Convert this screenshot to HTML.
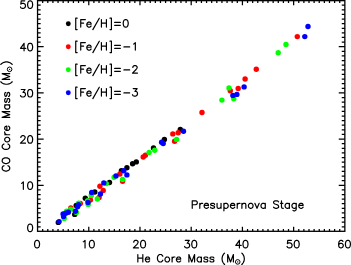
<!DOCTYPE html>
<html><head><meta charset="utf-8"><title>Presupernova Stage</title>
<style>html,body{margin:0;padding:0;background:#fff;}body{width:351px;height:265px;overflow:hidden;font-family:"Liberation Sans",sans-serif;}svg{display:block;}</style>
</head><body>
<svg width="351" height="265" viewBox="0 0 351 265">
<rect width="351" height="265" fill="#fff"/>
<g fill="#000">
<circle cx="58.3" cy="222.4" r="2.7"/>
<circle cx="121.4" cy="170.8" r="2.7"/>
<circle cx="74.7" cy="214.4" r="2.7"/>
<circle cx="76.2" cy="205.4" r="2.7"/>
<circle cx="85.3" cy="198.2" r="2.7"/>
<circle cx="94.8" cy="192" r="2.7"/>
<circle cx="109.5" cy="182.5" r="2.7"/>
<circle cx="126.9" cy="167.8" r="2.7"/>
<circle cx="132.6" cy="163.8" r="2.7"/>
<circle cx="136.3" cy="161.9" r="2.7"/>
<circle cx="153.5" cy="148" r="2.7"/>
<circle cx="164.4" cy="139.4" r="2.7"/>
<circle cx="180.3" cy="129.4" r="2.7"/>
</g>
<g fill="#f00">
<circle cx="70.8" cy="208.0" r="2.7"/>
<circle cx="80.3" cy="203.5" r="2.7"/>
<circle cx="90.4" cy="200" r="2.7"/>
<circle cx="99.1" cy="197.5" r="2.7"/>
<circle cx="103.2" cy="190.5" r="2.7"/>
<circle cx="99.9" cy="186.2" r="2.7"/>
<circle cx="119.9" cy="174" r="2.7"/>
<circle cx="122.6" cy="181.3" r="2.7"/>
<circle cx="143.2" cy="157.0" r="2.7"/>
<circle cx="145.4" cy="155.3" r="2.7"/>
<circle cx="172.8" cy="133.9" r="2.7"/>
<circle cx="178.2" cy="132.7" r="2.7"/>
<circle cx="174.6" cy="141.3" r="2.7"/>
<circle cx="202" cy="112.5" r="2.7"/>
<circle cx="230.3" cy="90.7" r="2.7"/>
<circle cx="238.2" cy="88.5" r="2.7"/>
<circle cx="245.1" cy="79.0" r="2.7"/>
<circle cx="256.3" cy="69.2" r="2.7"/>
<circle cx="297.3" cy="36.6" r="2.7"/>
</g>
<g fill="#0f0">
<circle cx="64.2" cy="218.4" r="2.7"/>
<circle cx="70.8" cy="209.2" r="2.7"/>
<circle cx="76.4" cy="212.4" r="2.7"/>
<circle cx="66.6" cy="211.2" r="2.7"/>
<circle cx="78.6" cy="203.3" r="2.7"/>
<circle cx="88.2" cy="204.4" r="2.7"/>
<circle cx="87.6" cy="200.6" r="2.7"/>
<circle cx="91.3" cy="195.4" r="2.7"/>
<circle cx="97.3" cy="199" r="2.7"/>
<circle cx="106.3" cy="183.6" r="2.7"/>
<circle cx="114.1" cy="177.2" r="2.7"/>
<circle cx="122.6" cy="179.4" r="2.7"/>
<circle cx="149.1" cy="152.5" r="2.7"/>
<circle cx="154.7" cy="150.3" r="2.7"/>
<circle cx="176.6" cy="139.4" r="2.7"/>
<circle cx="221.9" cy="100.1" r="2.7"/>
<circle cx="229" cy="87.9" r="2.7"/>
<circle cx="233.8" cy="98.8" r="2.7"/>
<circle cx="278.2" cy="52.8" r="2.7"/>
<circle cx="286" cy="44.5" r="2.7"/>
</g>
<g fill="#00f">
<circle cx="59.1" cy="221.6" r="2.7"/>
<circle cx="126.9" cy="174.9" r="2.7"/>
<circle cx="63.6" cy="216.6" r="2.7"/>
<circle cx="63.1" cy="214" r="2.7"/>
<circle cx="65.8" cy="213.2" r="2.7"/>
<circle cx="68.4" cy="212.3" r="2.7"/>
<circle cx="75.4" cy="211.2" r="2.7"/>
<circle cx="77.6" cy="206.8" r="2.7"/>
<circle cx="78.5" cy="204.8" r="2.7"/>
<circle cx="88" cy="202.5" r="2.7"/>
<circle cx="91.7" cy="192.5" r="2.7"/>
<circle cx="100.4" cy="194" r="2.7"/>
<circle cx="103.8" cy="182.9" r="2.7"/>
<circle cx="116" cy="175.9" r="2.7"/>
<circle cx="123.8" cy="170.7" r="2.7"/>
<circle cx="161.6" cy="142.2" r="2.7"/>
<circle cx="163.2" cy="143.5" r="2.7"/>
<circle cx="183.5" cy="131.2" r="2.7"/>
<circle cx="232.9" cy="95.4" r="2.7"/>
<circle cx="236.9" cy="94.4" r="2.7"/>
<circle cx="244.1" cy="86.9" r="2.7"/>
<circle cx="304.8" cy="36.6" r="2.7"/>
<circle cx="308" cy="26.5" r="2.7"/>
</g>
<circle cx="68.3" cy="23.8" r="2.45" fill="#000"/>
<circle cx="68.3" cy="46.8" r="2.45" fill="#f00"/>
<circle cx="68.3" cy="69.8" r="2.45" fill="#0f0"/>
<circle cx="68.3" cy="92.8" r="2.45" fill="#00f"/>
<rect x="37.55" y="0.65" width="307.3" height="230.65" fill="none" stroke="#000" stroke-width="1.3"/>
<path d="M42.67 231.3 V229.00 M42.67 0.65 V2.95 M47.79 231.3 V229.00 M47.79 0.65 V2.95 M52.91 231.3 V229.00 M52.91 0.65 V2.95 M58.04 231.3 V229.00 M58.04 0.65 V2.95 M63.16 231.3 V229.00 M63.16 0.65 V2.95 M68.28 231.3 V229.00 M68.28 0.65 V2.95 M73.40 231.3 V229.00 M73.40 0.65 V2.95 M78.52 231.3 V229.00 M78.52 0.65 V2.95 M83.65 231.3 V229.00 M83.65 0.65 V2.95 M88.77 231.3 V226.70 M88.77 0.65 V5.25 M93.89 231.3 V229.00 M93.89 0.65 V2.95 M99.01 231.3 V229.00 M99.01 0.65 V2.95 M104.13 231.3 V229.00 M104.13 0.65 V2.95 M109.25 231.3 V229.00 M109.25 0.65 V2.95 M114.38 231.3 V229.00 M114.38 0.65 V2.95 M119.50 231.3 V229.00 M119.50 0.65 V2.95 M124.62 231.3 V229.00 M124.62 0.65 V2.95 M129.74 231.3 V229.00 M129.74 0.65 V2.95 M134.86 231.3 V229.00 M134.86 0.65 V2.95 M139.98 231.3 V226.70 M139.98 0.65 V5.25 M145.11 231.3 V229.00 M145.11 0.65 V2.95 M150.23 231.3 V229.00 M150.23 0.65 V2.95 M155.35 231.3 V229.00 M155.35 0.65 V2.95 M160.47 231.3 V229.00 M160.47 0.65 V2.95 M165.59 231.3 V229.00 M165.59 0.65 V2.95 M170.71 231.3 V229.00 M170.71 0.65 V2.95 M175.83 231.3 V229.00 M175.83 0.65 V2.95 M180.96 231.3 V229.00 M180.96 0.65 V2.95 M186.08 231.3 V229.00 M186.08 0.65 V2.95 M191.20 231.3 V226.70 M191.20 0.65 V5.25 M196.32 231.3 V229.00 M196.32 0.65 V2.95 M201.44 231.3 V229.00 M201.44 0.65 V2.95 M206.56 231.3 V229.00 M206.56 0.65 V2.95 M211.69 231.3 V229.00 M211.69 0.65 V2.95 M216.81 231.3 V229.00 M216.81 0.65 V2.95 M221.93 231.3 V229.00 M221.93 0.65 V2.95 M227.05 231.3 V229.00 M227.05 0.65 V2.95 M232.17 231.3 V229.00 M232.17 0.65 V2.95 M237.30 231.3 V229.00 M237.30 0.65 V2.95 M242.42 231.3 V226.70 M242.42 0.65 V5.25 M247.54 231.3 V229.00 M247.54 0.65 V2.95 M252.66 231.3 V229.00 M252.66 0.65 V2.95 M257.78 231.3 V229.00 M257.78 0.65 V2.95 M262.90 231.3 V229.00 M262.90 0.65 V2.95 M268.02 231.3 V229.00 M268.02 0.65 V2.95 M273.15 231.3 V229.00 M273.15 0.65 V2.95 M278.27 231.3 V229.00 M278.27 0.65 V2.95 M283.39 231.3 V229.00 M283.39 0.65 V2.95 M288.51 231.3 V229.00 M288.51 0.65 V2.95 M293.63 231.3 V226.70 M293.63 0.65 V5.25 M298.76 231.3 V229.00 M298.76 0.65 V2.95 M303.88 231.3 V229.00 M303.88 0.65 V2.95 M309.00 231.3 V229.00 M309.00 0.65 V2.95 M314.12 231.3 V229.00 M314.12 0.65 V2.95 M319.24 231.3 V229.00 M319.24 0.65 V2.95 M324.36 231.3 V229.00 M324.36 0.65 V2.95 M329.49 231.3 V229.00 M329.49 0.65 V2.95 M334.61 231.3 V229.00 M334.61 0.65 V2.95 M339.73 231.3 V229.00 M339.73 0.65 V2.95 M37.55 226.83 H40.65 M344.85 226.83 H341.75 M37.55 222.21 H40.65 M344.85 222.21 H341.75 M37.55 217.60 H40.65 M344.85 217.60 H341.75 M37.55 212.98 H40.65 M344.85 212.98 H341.75 M37.55 208.36 H40.65 M344.85 208.36 H341.75 M37.55 203.74 H40.65 M344.85 203.74 H341.75 M37.55 199.12 H40.65 M344.85 199.12 H341.75 M37.55 194.51 H40.65 M344.85 194.51 H341.75 M37.55 189.89 H40.65 M344.85 189.89 H341.75 M37.55 185.27 H43.65 M344.85 185.27 H338.75 M37.55 180.65 H40.65 M344.85 180.65 H341.75 M37.55 176.03 H40.65 M344.85 176.03 H341.75 M37.55 171.42 H40.65 M344.85 171.42 H341.75 M37.55 166.80 H40.65 M344.85 166.80 H341.75 M37.55 162.18 H40.65 M344.85 162.18 H341.75 M37.55 157.56 H40.65 M344.85 157.56 H341.75 M37.55 152.94 H40.65 M344.85 152.94 H341.75 M37.55 148.33 H40.65 M344.85 148.33 H341.75 M37.55 143.71 H40.65 M344.85 143.71 H341.75 M37.55 139.09 H43.65 M344.85 139.09 H338.75 M37.55 134.47 H40.65 M344.85 134.47 H341.75 M37.55 129.85 H40.65 M344.85 129.85 H341.75 M37.55 125.24 H40.65 M344.85 125.24 H341.75 M37.55 120.62 H40.65 M344.85 120.62 H341.75 M37.55 116.00 H40.65 M344.85 116.00 H341.75 M37.55 111.38 H40.65 M344.85 111.38 H341.75 M37.55 106.76 H40.65 M344.85 106.76 H341.75 M37.55 102.15 H40.65 M344.85 102.15 H341.75 M37.55 97.53 H40.65 M344.85 97.53 H341.75 M37.55 92.91 H43.65 M344.85 92.91 H338.75 M37.55 88.29 H40.65 M344.85 88.29 H341.75 M37.55 83.67 H40.65 M344.85 83.67 H341.75 M37.55 79.06 H40.65 M344.85 79.06 H341.75 M37.55 74.44 H40.65 M344.85 74.44 H341.75 M37.55 69.82 H40.65 M344.85 69.82 H341.75 M37.55 65.20 H40.65 M344.85 65.20 H341.75 M37.55 60.58 H40.65 M344.85 60.58 H341.75 M37.55 55.97 H40.65 M344.85 55.97 H341.75 M37.55 51.35 H40.65 M344.85 51.35 H341.75 M37.55 46.73 H43.65 M344.85 46.73 H338.75 M37.55 42.11 H40.65 M344.85 42.11 H341.75 M37.55 37.49 H40.65 M344.85 37.49 H341.75 M37.55 32.88 H40.65 M344.85 32.88 H341.75 M37.55 28.26 H40.65 M344.85 28.26 H341.75 M37.55 23.64 H40.65 M344.85 23.64 H341.75 M37.55 19.02 H40.65 M344.85 19.02 H341.75 M37.55 14.40 H40.65 M344.85 14.40 H341.75 M37.55 9.79 H40.65 M344.85 9.79 H341.75 M37.55 5.17 H40.65 M344.85 5.17 H341.75" stroke="#000" stroke-width="1.25" fill="none"/>
<path d="M36.69 240.40 L35.62 240.76 L34.91 241.83 L34.55 243.62 L34.55 244.69 L34.91 246.47 L35.62 247.54 L36.69 247.90 L37.41 247.90 L38.48 247.54 L39.19 246.47 L39.55 244.69 L39.55 243.62 L39.19 241.83 L38.48 240.76 L37.41 240.40 L36.69 240.40 M83.27 241.83 L83.98 241.47 L85.05 240.40 L85.05 247.90 M91.48 240.40 L90.41 240.76 L89.69 241.83 L89.34 243.62 L89.34 244.69 L89.69 246.47 L90.41 247.54 L91.48 247.90 L92.19 247.90 L93.26 247.54 L93.98 246.47 L94.34 244.69 L94.34 243.62 L93.98 241.83 L93.26 240.76 L92.19 240.40 L91.48 240.40 M133.77 242.19 L133.77 241.83 L134.13 241.12 L134.49 240.76 L135.20 240.40 L136.63 240.40 L137.34 240.76 L137.70 241.12 L138.06 241.83 L138.06 242.55 L137.70 243.26 L136.98 244.33 L133.41 247.90 L138.41 247.90 M142.70 240.40 L141.63 240.76 L140.91 241.83 L140.55 243.62 L140.55 244.69 L140.91 246.47 L141.63 247.54 L142.70 247.90 L143.41 247.90 L144.48 247.54 L145.20 246.47 L145.55 244.69 L145.55 243.62 L145.20 241.83 L144.48 240.76 L143.41 240.40 L142.70 240.40 M185.34 240.40 L189.27 240.40 L187.13 243.26 L188.20 243.26 L188.91 243.62 L189.27 243.97 L189.63 245.04 L189.63 245.76 L189.27 246.83 L188.56 247.54 L187.49 247.90 L186.42 247.90 L185.34 247.54 L184.99 247.19 L184.63 246.47 M193.91 240.40 L192.84 240.76 L192.13 241.83 L191.77 243.62 L191.77 244.69 L192.13 246.47 L192.84 247.54 L193.91 247.90 L194.63 247.90 L195.70 247.54 L196.41 246.47 L196.77 244.69 L196.77 243.62 L196.41 241.83 L195.70 240.76 L194.63 240.40 L193.91 240.40 M239.42 240.40 L235.85 245.40 L241.20 245.40 M239.42 240.40 L239.42 247.90 M245.13 240.40 L244.06 240.76 L243.34 241.83 L242.99 243.62 L242.99 244.69 L243.34 246.47 L244.06 247.54 L245.13 247.90 L245.84 247.90 L246.91 247.54 L247.63 246.47 L247.99 244.69 L247.99 243.62 L247.63 241.83 L246.91 240.76 L245.84 240.40 L245.13 240.40 M291.35 240.40 L287.78 240.40 L287.42 243.62 L287.78 243.26 L288.85 242.90 L289.92 242.90 L290.99 243.26 L291.71 243.97 L292.06 245.04 L292.06 245.76 L291.71 246.83 L290.99 247.54 L289.92 247.90 L288.85 247.90 L287.78 247.54 L287.42 247.19 L287.06 246.47 M296.35 240.40 L295.28 240.76 L294.56 241.83 L294.20 243.62 L294.20 244.69 L294.56 246.47 L295.28 247.54 L296.35 247.90 L297.06 247.90 L298.13 247.54 L298.85 246.47 L299.20 244.69 L299.20 243.62 L298.85 241.83 L298.13 240.76 L297.06 240.40 L296.35 240.40 M342.92 241.47 L342.57 240.76 L341.49 240.40 L340.78 240.40 L339.71 240.76 L339.00 241.83 L338.64 243.62 L338.64 245.40 L339.00 246.83 L339.71 247.54 L340.78 247.90 L341.14 247.90 L342.21 247.54 L342.92 246.83 L343.28 245.76 L343.28 245.40 L342.92 244.33 L342.21 243.62 L341.14 243.26 L340.78 243.26 L339.71 243.62 L339.00 244.33 L338.64 245.40 M347.56 240.40 L346.49 240.76 L345.78 241.83 L345.42 243.62 L345.42 244.69 L345.78 246.47 L346.49 247.54 L347.56 247.90 L348.28 247.90 L349.35 247.54 L350.06 246.47 L350.42 244.69 L350.42 243.62 L350.06 241.83 L349.35 240.76 L348.28 240.40 L347.56 240.40 M29.77 224.10 L28.70 224.46 L27.99 225.53 L27.63 227.32 L27.63 228.39 L27.99 230.17 L28.70 231.24 L29.77 231.60 L30.49 231.60 L31.56 231.24 L32.27 230.17 L32.63 228.39 L32.63 227.32 L32.27 225.53 L31.56 224.46 L30.49 224.10 L29.77 224.10 M21.56 183.30 L22.28 182.94 L23.35 181.87 L23.35 189.37 M29.77 181.87 L28.70 182.23 L27.99 183.30 L27.63 185.09 L27.63 186.16 L27.99 187.94 L28.70 189.01 L29.77 189.37 L30.49 189.37 L31.56 189.01 L32.27 187.94 L32.63 186.16 L32.63 185.09 L32.27 183.30 L31.56 182.23 L30.49 181.87 L29.77 181.87 M20.85 137.48 L20.85 137.12 L21.21 136.41 L21.56 136.05 L22.28 135.69 L23.70 135.69 L24.42 136.05 L24.78 136.41 L25.13 137.12 L25.13 137.83 L24.78 138.55 L24.06 139.62 L20.49 143.19 L25.49 143.19 M29.77 135.69 L28.70 136.05 L27.99 137.12 L27.63 138.91 L27.63 139.98 L27.99 141.76 L28.70 142.83 L29.77 143.19 L30.49 143.19 L31.56 142.83 L32.27 141.76 L32.63 139.98 L32.63 138.91 L32.27 137.12 L31.56 136.05 L30.49 135.69 L29.77 135.69 M21.21 89.51 L25.13 89.51 L22.99 92.37 L24.06 92.37 L24.78 92.73 L25.13 93.08 L25.49 94.15 L25.49 94.87 L25.13 95.94 L24.42 96.65 L23.35 97.01 L22.28 97.01 L21.21 96.65 L20.85 96.30 L20.49 95.58 M29.77 89.51 L28.70 89.87 L27.99 90.94 L27.63 92.73 L27.63 93.80 L27.99 95.58 L28.70 96.65 L29.77 97.01 L30.49 97.01 L31.56 96.65 L32.27 95.58 L32.63 93.80 L32.63 92.73 L32.27 90.94 L31.56 89.87 L30.49 89.51 L29.77 89.51 M24.06 43.33 L20.49 48.33 L25.85 48.33 M24.06 43.33 L24.06 50.83 M29.77 43.33 L28.70 43.69 L27.99 44.76 L27.63 46.55 L27.63 47.62 L27.99 49.40 L28.70 50.47 L29.77 50.83 L30.49 50.83 L31.56 50.47 L32.27 49.40 L32.63 47.62 L32.63 46.55 L32.27 44.76 L31.56 43.69 L30.49 43.33 L29.77 43.33 M24.78 0.85 L21.21 0.85 L20.85 4.07 L21.21 3.71 L22.28 3.35 L23.35 3.35 L24.42 3.71 L25.13 4.42 L25.49 5.49 L25.49 6.21 L25.13 7.28 L24.42 7.99 L23.35 8.35 L22.28 8.35 L21.21 7.99 L20.85 7.64 L20.49 6.92 M29.77 0.85 L28.70 1.21 L27.99 2.28 L27.63 4.07 L27.63 5.14 L27.99 6.92 L28.70 7.99 L29.77 8.35 L30.49 8.35 L31.56 7.99 L32.27 6.92 L32.63 5.14 L32.63 4.07 L32.27 2.28 L31.56 1.21 L30.49 0.85 L29.77 0.85 M75.73 18.18 L75.73 29.60 M75.73 18.18 L77.16 18.18 M75.73 29.60 L77.16 29.60 M80.73 19.60 L80.73 27.10 M80.73 19.60 L85.37 19.60 M80.73 23.17 L83.58 23.17 M86.80 24.24 L91.08 24.24 L91.08 23.53 L90.72 22.82 L90.37 22.46 L89.65 22.10 L88.58 22.10 L87.87 22.46 L87.15 23.17 L86.80 24.24 L86.80 24.96 L87.15 26.03 L87.87 26.74 L88.58 27.10 L89.65 27.10 L90.37 26.74 L91.08 26.03 M99.29 18.18 L92.86 29.60 M101.43 19.60 L101.43 27.10 M106.43 19.60 L106.43 27.10 M101.43 23.17 L106.43 23.17 M111.43 18.18 L111.43 29.60 M110.00 18.18 L111.43 18.18 M110.00 29.60 L111.43 29.60 M114.64 22.46 L120.35 22.46 M114.64 25.32 L120.35 25.32 M125.35 19.60 L124.28 19.96 L123.57 21.03 L123.21 22.82 L123.21 23.89 L123.57 25.67 L124.28 26.74 L125.35 27.10 L126.06 27.10 L127.14 26.74 L127.85 25.67 L128.21 23.89 L128.21 22.82 L127.85 21.03 L127.14 19.96 L126.06 19.60 L125.35 19.60 M75.73 41.17 L75.73 52.60 M75.73 41.17 L77.16 41.17 M75.73 52.60 L77.16 52.60 M80.73 42.60 L80.73 50.10 M80.73 42.60 L85.37 42.60 M80.73 46.17 L83.58 46.17 M86.80 47.24 L91.08 47.24 L91.08 46.53 L90.72 45.82 L90.37 45.46 L89.65 45.10 L88.58 45.10 L87.87 45.46 L87.15 46.17 L86.80 47.24 L86.80 47.96 L87.15 49.03 L87.87 49.74 L88.58 50.10 L89.65 50.10 L90.37 49.74 L91.08 49.03 M99.29 41.17 L92.86 52.60 M101.43 42.60 L101.43 50.10 M106.43 42.60 L106.43 50.10 M101.43 46.17 L106.43 46.17 M111.43 41.17 L111.43 52.60 M110.00 41.17 L111.43 41.17 M110.00 52.60 L111.43 52.60 M114.64 45.46 L120.35 45.46 M114.64 48.31 L120.35 48.31 M123.92 46.89 L129.63 46.89 M133.56 44.03 L134.28 43.67 L135.35 42.60 L135.35 50.10 M75.73 64.17 L75.73 75.60 M75.73 64.17 L77.16 64.17 M75.73 75.60 L77.16 75.60 M80.73 65.60 L80.73 73.10 M80.73 65.60 L85.37 65.60 M80.73 69.17 L83.58 69.17 M86.80 70.24 L91.08 70.24 L91.08 69.53 L90.72 68.82 L90.37 68.46 L89.65 68.10 L88.58 68.10 L87.87 68.46 L87.15 69.17 L86.80 70.24 L86.80 70.96 L87.15 72.03 L87.87 72.74 L88.58 73.10 L89.65 73.10 L90.37 72.74 L91.08 72.03 M99.29 64.17 L92.86 75.60 M101.43 65.60 L101.43 73.10 M106.43 65.60 L106.43 73.10 M101.43 69.17 L106.43 69.17 M111.43 64.17 L111.43 75.60 M110.00 64.17 L111.43 64.17 M110.00 75.60 L111.43 75.60 M114.64 68.46 L120.35 68.46 M114.64 71.31 L120.35 71.31 M123.92 69.89 L129.63 69.89 M132.85 67.39 L132.85 67.03 L133.21 66.32 L133.56 65.96 L134.28 65.60 L135.70 65.60 L136.42 65.96 L136.78 66.32 L137.13 67.03 L137.13 67.74 L136.78 68.46 L136.06 69.53 L132.49 73.10 L137.49 73.10 M75.73 87.17 L75.73 98.60 M75.73 87.17 L77.16 87.17 M75.73 98.60 L77.16 98.60 M80.73 88.60 L80.73 96.10 M80.73 88.60 L85.37 88.60 M80.73 92.17 L83.58 92.17 M86.80 93.24 L91.08 93.24 L91.08 92.53 L90.72 91.82 L90.37 91.46 L89.65 91.10 L88.58 91.10 L87.87 91.46 L87.15 92.17 L86.80 93.24 L86.80 93.96 L87.15 95.03 L87.87 95.74 L88.58 96.10 L89.65 96.10 L90.37 95.74 L91.08 95.03 M99.29 87.17 L92.86 98.60 M101.43 88.60 L101.43 96.10 M106.43 88.60 L106.43 96.10 M101.43 92.17 L106.43 92.17 M111.43 87.17 L111.43 98.60 M110.00 87.17 L111.43 87.17 M110.00 98.60 L111.43 98.60 M114.64 91.46 L120.35 91.46 M114.64 94.31 L120.35 94.31 M123.92 92.89 L129.63 92.89 M133.21 88.60 L137.13 88.60 L134.99 91.46 L136.06 91.46 L136.78 91.82 L137.13 92.17 L137.49 93.24 L137.49 93.96 L137.13 95.03 L136.42 95.74 L135.35 96.10 L134.28 96.10 L133.21 95.74 L132.85 95.39 L132.49 94.67 M192.24 200.80 L192.24 208.30 M192.24 200.80 L195.48 200.80 L196.56 201.16 L196.92 201.52 L197.28 202.23 L197.28 203.30 L196.92 204.02 L196.56 204.37 L195.48 204.73 L192.24 204.73 M199.80 203.30 L199.80 208.30 M199.80 205.44 L200.16 204.37 L200.88 203.66 L201.60 203.30 L202.68 203.30 M204.11 205.44 L208.43 205.44 L208.43 204.73 L208.07 204.02 L207.71 203.66 L206.99 203.30 L205.91 203.30 L205.19 203.66 L204.47 204.37 L204.11 205.44 L204.11 206.16 L204.47 207.23 L205.19 207.94 L205.91 208.30 L206.99 208.30 L207.71 207.94 L208.43 207.23 M214.55 204.37 L214.19 203.66 L213.11 203.30 L212.03 203.30 L210.95 203.66 L210.59 204.37 L210.95 205.09 L211.67 205.44 L213.47 205.80 L214.19 206.16 L214.55 206.87 L214.55 207.23 L214.19 207.94 L213.11 208.30 L212.03 208.30 L210.95 207.94 L210.59 207.23 M217.07 203.30 L217.07 206.87 L217.43 207.94 L218.15 208.30 L219.23 208.30 L219.95 207.94 L221.03 206.87 M221.03 203.30 L221.03 208.30 M223.91 203.30 L223.91 210.80 M223.91 204.37 L224.63 203.66 L225.35 203.30 L226.43 203.30 L227.15 203.66 L227.87 204.37 L228.23 205.44 L228.23 206.16 L227.87 207.23 L227.15 207.94 L226.43 208.30 L225.35 208.30 L224.63 207.94 L223.91 207.23 M230.38 205.44 L234.70 205.44 L234.70 204.73 L234.34 204.02 L233.98 203.66 L233.26 203.30 L232.18 203.30 L231.46 203.66 L230.74 204.37 L230.38 205.44 L230.38 206.16 L230.74 207.23 L231.46 207.94 L232.18 208.30 L233.26 208.30 L233.98 207.94 L234.70 207.23 M237.22 203.30 L237.22 208.30 M237.22 205.44 L237.58 204.37 L238.30 203.66 L239.02 203.30 L240.10 203.30 M241.90 203.30 L241.90 208.30 M241.90 204.73 L242.98 203.66 L243.70 203.30 L244.78 203.30 L245.50 203.66 L245.86 204.73 L245.86 208.30 M250.18 203.30 L249.46 203.66 L248.74 204.37 L248.38 205.44 L248.38 206.16 L248.74 207.23 L249.46 207.94 L250.18 208.30 L251.26 208.30 L251.98 207.94 L252.70 207.23 L253.06 206.16 L253.06 205.44 L252.70 204.37 L251.98 203.66 L251.26 203.30 L250.18 203.30 M254.85 203.30 L257.01 208.30 M259.17 203.30 L257.01 208.30 M265.29 203.30 L265.29 208.30 M265.29 204.37 L264.57 203.66 L263.85 203.30 L262.77 203.30 L262.05 203.66 L261.33 204.37 L260.97 205.44 L260.97 206.16 L261.33 207.23 L262.05 207.94 L262.77 208.30 L263.85 208.30 L264.57 207.94 L265.29 207.23 M278.60 201.87 L277.89 201.16 L276.81 200.80 L275.37 200.80 L274.29 201.16 L273.57 201.87 L273.57 202.59 L273.93 203.30 L274.29 203.66 L275.01 204.02 L277.17 204.73 L277.89 205.09 L278.25 205.44 L278.60 206.16 L278.60 207.23 L277.89 207.94 L276.81 208.30 L275.37 208.30 L274.29 207.94 L273.57 207.23 M281.48 200.80 L281.48 206.87 L281.84 207.94 L282.56 208.30 L283.28 208.30 M280.40 203.30 L282.92 203.30 M289.40 203.30 L289.40 208.30 M289.40 204.37 L288.68 203.66 L287.96 203.30 L286.88 203.30 L286.16 203.66 L285.44 204.37 L285.08 205.44 L285.08 206.16 L285.44 207.23 L286.16 207.94 L286.88 208.30 L287.96 208.30 L288.68 207.94 L289.40 207.23 M296.24 203.30 L296.24 209.01 L295.88 210.09 L295.52 210.44 L294.80 210.80 L293.72 210.80 L293.00 210.44 M296.24 204.37 L295.52 203.66 L294.80 203.30 L293.72 203.30 L293.00 203.66 L292.28 204.37 L291.92 205.44 L291.92 206.16 L292.28 207.23 L293.00 207.94 L293.72 208.30 L294.80 208.30 L295.52 207.94 L296.24 207.23 M298.76 205.44 L303.08 205.44 L303.08 204.73 L302.72 204.02 L302.36 203.66 L301.64 203.30 L300.56 203.30 L299.84 203.66 L299.12 204.37 L298.76 205.44 L298.76 206.16 L299.12 207.23 L299.84 207.94 L300.56 208.30 L301.64 208.30 L302.36 207.94 L303.08 207.23 M137.83 254.50 L137.83 262.00 M142.83 254.50 L142.83 262.00 M137.83 258.07 L142.83 258.07 M145.33 259.14 L149.61 259.14 L149.61 258.43 L149.25 257.72 L148.90 257.36 L148.18 257.00 L147.11 257.00 L146.40 257.36 L145.68 258.07 L145.33 259.14 L145.33 259.86 L145.68 260.93 L146.40 261.64 L147.11 262.00 L148.18 262.00 L148.90 261.64 L149.61 260.93 M162.82 256.29 L162.46 255.57 L161.75 254.86 L161.03 254.50 L159.60 254.50 L158.89 254.86 L158.18 255.57 L157.82 256.29 L157.46 257.36 L157.46 259.14 L157.82 260.21 L158.18 260.93 L158.89 261.64 L159.60 262.00 L161.03 262.00 L161.75 261.64 L162.46 260.93 L162.82 260.21 M166.75 257.00 L166.03 257.36 L165.32 258.07 L164.96 259.14 L164.96 259.86 L165.32 260.93 L166.03 261.64 L166.75 262.00 L167.82 262.00 L168.53 261.64 L169.24 260.93 L169.60 259.86 L169.60 259.14 L169.24 258.07 L168.53 257.36 L167.82 257.00 L166.75 257.00 M172.10 257.00 L172.10 262.00 M172.10 259.14 L172.46 258.07 L173.17 257.36 L173.88 257.00 L174.96 257.00 M176.38 259.14 L180.67 259.14 L180.67 258.43 L180.31 257.72 L179.95 257.36 L179.24 257.00 L178.17 257.00 L177.45 257.36 L176.74 258.07 L176.38 259.14 L176.38 259.86 L176.74 260.93 L177.45 261.64 L178.17 262.00 L179.24 262.00 L179.95 261.64 L180.67 260.93 M188.88 254.50 L188.88 262.00 M188.88 254.50 L191.73 262.00 M194.59 254.50 L191.73 262.00 M194.59 254.50 L194.59 262.00 M201.37 257.00 L201.37 262.00 M201.37 258.07 L200.66 257.36 L199.95 257.00 L198.87 257.00 L198.16 257.36 L197.45 258.07 L197.09 259.14 L197.09 259.86 L197.45 260.93 L198.16 261.64 L198.87 262.00 L199.95 262.00 L200.66 261.64 L201.37 260.93 M207.80 258.07 L207.44 257.36 L206.37 257.00 L205.30 257.00 L204.23 257.36 L203.87 258.07 L204.23 258.79 L204.94 259.14 L206.73 259.50 L207.44 259.86 L207.80 260.57 L207.80 260.93 L207.44 261.64 L206.37 262.00 L205.30 262.00 L204.23 261.64 L203.87 260.93 M213.87 258.07 L213.51 257.36 L212.44 257.00 L211.37 257.00 L210.30 257.36 L209.94 258.07 L210.30 258.79 L211.01 259.14 L212.80 259.50 L213.51 259.86 L213.87 260.57 L213.87 260.93 L213.51 261.64 L212.44 262.00 L211.37 262.00 L210.30 261.64 L209.94 260.93 M224.58 253.07 L223.86 253.79 L223.15 254.86 L222.44 256.29 L222.08 258.07 L222.08 259.50 L222.44 261.29 L223.15 262.71 L223.86 263.79 L224.58 264.50 M227.68 254.50 L227.68 262.00 M227.68 254.50 L230.53 262.00 M233.39 254.50 L230.53 262.00 M233.39 254.50 L233.39 262.00 M241.79 253.07 L242.50 253.79 L243.22 254.86 L243.93 256.29 L244.29 258.07 L244.29 259.50 L243.93 261.29 L243.22 262.71 L242.50 263.79 L241.79 264.50" stroke="#000" stroke-width="1.2" fill="none" stroke-linecap="round" stroke-linejoin="round"/>
<circle cx="237.72" cy="261.90" r="2.3" fill="none" stroke="#000" stroke-width="1.0"/><circle cx="237.72" cy="261.90" r="0.7" fill="#000"/>
<g transform="translate(9.7,172.1) rotate(-90)"><path d="M6.43 -5.71 L6.07 -6.43 L5.35 -7.14 L4.64 -7.50 L3.21 -7.50 L2.50 -7.14 L1.78 -6.43 L1.43 -5.71 L1.07 -4.64 L1.07 -2.86 L1.43 -1.78 L1.78 -1.07 L2.50 -0.36 L3.21 0.00 L4.64 0.00 L5.35 -0.36 L6.07 -1.07 L6.43 -1.78 M10.71 -7.50 L10.00 -7.14 L9.28 -6.43 L8.93 -5.71 L8.57 -4.64 L8.57 -2.86 L8.93 -1.78 L9.28 -1.07 L10.00 -0.36 L10.71 0.00 L12.14 0.00 L12.85 -0.36 L13.57 -1.07 L13.92 -1.78 L14.28 -2.86 L14.28 -4.64 L13.92 -5.71 L13.57 -6.43 L12.85 -7.14 L12.14 -7.50 L10.71 -7.50 M28.08 -5.71 L27.72 -6.43 L27.01 -7.14 L26.29 -7.50 L24.86 -7.50 L24.15 -7.14 L23.44 -6.43 L23.08 -5.71 L22.72 -4.64 L22.72 -2.86 L23.08 -1.78 L23.44 -1.07 L24.15 -0.36 L24.86 0.00 L26.29 0.00 L27.01 -0.36 L27.72 -1.07 L28.08 -1.78 M32.00 -5.00 L31.29 -4.64 L30.58 -3.93 L30.22 -2.86 L30.22 -2.14 L30.58 -1.07 L31.29 -0.36 L32.00 0.00 L33.07 0.00 L33.79 -0.36 L34.50 -1.07 L34.86 -2.14 L34.86 -2.86 L34.50 -3.93 L33.79 -4.64 L33.07 -5.00 L32.00 -5.00 M37.36 -5.00 L37.36 0.00 M37.36 -2.86 L37.72 -3.93 L38.43 -4.64 L39.14 -5.00 L40.21 -5.00 M41.64 -2.86 L45.93 -2.86 L45.93 -3.57 L45.57 -4.28 L45.21 -4.64 L44.50 -5.00 L43.43 -5.00 L42.71 -4.64 L42.00 -3.93 L41.64 -2.86 L41.64 -2.14 L42.00 -1.07 L42.71 -0.36 L43.43 0.00 L44.50 0.00 L45.21 -0.36 L45.93 -1.07 M54.68 -7.50 L54.68 0.00 M54.68 -7.50 L57.53 0.00 M60.39 -7.50 L57.53 0.00 M60.39 -7.50 L60.39 0.00 M67.17 -5.00 L67.17 0.00 M67.17 -3.93 L66.46 -4.64 L65.75 -5.00 L64.67 -5.00 L63.96 -4.64 L63.25 -3.93 L62.89 -2.86 L62.89 -2.14 L63.25 -1.07 L63.96 -0.36 L64.67 0.00 L65.75 0.00 L66.46 -0.36 L67.17 -1.07 M73.60 -3.93 L73.24 -4.64 L72.17 -5.00 L71.10 -5.00 L70.03 -4.64 L69.67 -3.93 L70.03 -3.21 L70.74 -2.86 L72.53 -2.50 L73.24 -2.14 L73.60 -1.43 L73.60 -1.07 L73.24 -0.36 L72.17 0.00 L71.10 0.00 L70.03 -0.36 L69.67 -1.07 M79.67 -3.93 L79.31 -4.64 L78.24 -5.00 L77.17 -5.00 L76.10 -4.64 L75.74 -3.93 L76.10 -3.21 L76.81 -2.86 L78.60 -2.50 L79.31 -2.14 L79.67 -1.43 L79.67 -1.07 L79.31 -0.36 L78.24 0.00 L77.17 0.00 L76.10 -0.36 L75.74 -1.07 M90.33 -8.92 L89.61 -8.21 L88.90 -7.14 L88.18 -5.71 L87.83 -3.93 L87.83 -2.50 L88.18 -0.71 L88.90 0.71 L89.61 1.78 L90.33 2.50 M92.73 -7.50 L92.73 0.00 M92.73 -7.50 L95.58 0.00 M98.44 -7.50 L95.58 0.00 M98.44 -7.50 L98.44 0.00 M107.67 -8.92 L108.38 -8.21 L109.10 -7.14 L109.81 -5.71 L110.17 -3.93 L110.17 -2.50 L109.81 -0.71 L109.10 0.71 L108.38 1.78 L107.67 2.50" stroke="#000" stroke-width="1.2" fill="none" stroke-linecap="round" stroke-linejoin="round"/><circle cx="102.77" cy="-0.10" r="2.3" fill="none" stroke="#000" stroke-width="1.0"/><circle cx="102.77" cy="-0.10" r="0.7" fill="#000"/></g>
</svg>
</body></html>
